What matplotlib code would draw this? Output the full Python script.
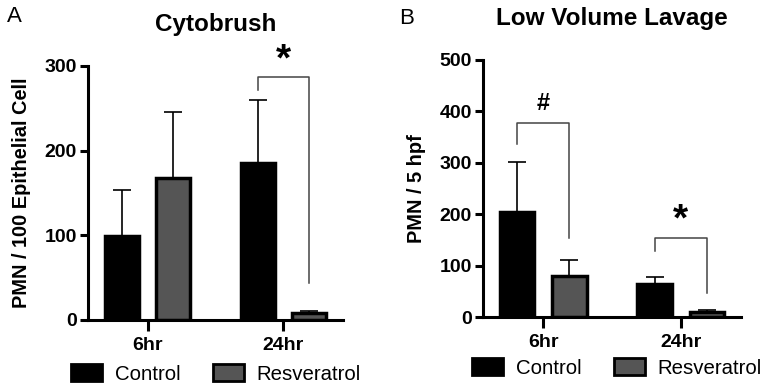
import numpy as np
import matplotlib
matplotlib.use("Agg")
from matplotlib import pyplot as plt
from matplotlib.patches import Patch

plt.rcParams['font.family'] = ['Liberation Sans', 'DejaVu Sans']

groups = ['6hr', '24hr']
series = ['Control', 'Resveratrol']
colors = ['#000000', '#555555']

# Panel A: Cytobrush
cyto_mean = {'Control': [99, 186], 'Resveratrol': [168, 8]}
cyto_sd = {'Control': [54, 74], 'Resveratrol': [78, 3]}

# Panel B: Low volume lavage
lav_mean = {'Control': [205, 64], 'Resveratrol': [80, 10]}
lav_sd = {'Control': [97, 15], 'Resveratrol': [31, 4]}


def draw_panel(ax, means, sds, ymax, step):
    x = np.arange(len(groups))
    width = 0.25
    offsets = [-0.19, 0.19]
    for s, off, c in zip(series, offsets, colors):
        ax.bar(x + off, means[s], width=width, color=c,
               edgecolor='black', linewidth=2.5, zorder=2)
        ax.errorbar(x + off, means[s],
                    yerr=[np.zeros(len(groups)), sds[s]], fmt='none',
                    ecolor='black', elinewidth=1.2, capsize=6.5, capthick=1.2,
                    zorder=1)
    ax.set_xlim(-0.44, 1.44)
    ax.set_ylim(0, ymax)
    ax.set_yticks(np.arange(0, ymax + 1, step))
    ax.set_xticks(x)
    ax.set_xticklabels(groups, fontweight='bold', fontsize=14)
    for lab in ax.get_yticklabels():
        lab.set_fontweight('bold')
        lab.set_fontsize(14)
    for sp in ['top', 'right']:
        ax.spines[sp].set_visible(False)
    for sp in ['left', 'bottom']:
        ax.spines[sp].set_linewidth(2.2)
    ax.tick_params(axis='y', width=2.2, length=6, pad=2)
    ax.tick_params(axis='x', width=2.2, length=8, pad=4)
    return x + offsets[0], x + offsets[1]


def bracket(ax, x1, x2, y_left, y_top, y_right, label, label_y, fs):
    ax.plot([x1, x1, x2, x2], [y_left, y_top, y_top, y_right],
            color='#444444', lw=1.1, zorder=3, clip_on=False)
    ax.text((x1 + x2) / 2, label_y, label, ha='center', va='center',
            fontsize=fs, fontweight='bold', clip_on=False)


fig = plt.figure(figsize=(7.67, 3.9), dpi=100)

axA = fig.add_axes([88 / 767, 1 - 320 / 390, (343 - 88) / 767, (320 - 66) / 390])
xl, xr = draw_panel(axA, cyto_mean, cyto_sd, 300, 100)
axA.set_ylabel('PMN / 100 Epithelial Cell', fontweight='bold', fontsize=14.4, labelpad=10)
bracket(axA, xl[1], xr[1], 272, 287, 44, '*', 306, 28)

axB = fig.add_axes([483 / 767, 1 - 317.3 / 390, (741 - 483) / 767, (317.3 - 60) / 390])
xl, xr = draw_panel(axB, lav_mean, lav_sd, 500, 100)
axB.set_ylabel('PMN / 5 hpf', fontweight='bold', fontsize=14.4, labelpad=10)
bracket(axB, xl[0], xr[0], 337, 377, 155, '#', 416, 17)
bracket(axB, xl[1], xr[1], 129, 154, 47, '*', 188, 28)

fig.text(216 / 767, 1 - 25 / 390, 'Cytobrush', ha='center', va='center',
         fontsize=17.5, fontweight='bold')
fig.text(612 / 767, 1 - 18 / 390, 'Low Volume Lavage', ha='center', va='center',
         fontsize=17.5, fontweight='bold')
fig.text(7 / 767, 1 - 16 / 390, 'A', ha='left', va='center', fontsize=16)
fig.text(399 / 767, 1 - 18 / 390, 'B', ha='left', va='center', fontsize=16)

handles = [Patch(facecolor=c, edgecolor='black', linewidth=2) for c in colors]
fig.legend(handles, series, loc='center', bbox_to_anchor=(216 / 767, 1 - 374 / 390),
           ncol=2, frameon=False, fontsize=14.7, handlelength=1.5, handleheight=0.85,
           columnspacing=1.6, handletextpad=0.64, borderpad=0, borderaxespad=0)
fig.legend(handles, series, loc='center', bbox_to_anchor=(617 / 767, 1 - 368 / 390),
           ncol=2, frameon=False, fontsize=14.7, handlelength=1.5, handleheight=0.85,
           columnspacing=1.6, handletextpad=0.64, borderpad=0, borderaxespad=0)

fig.savefig('out.png', dpi=100)
